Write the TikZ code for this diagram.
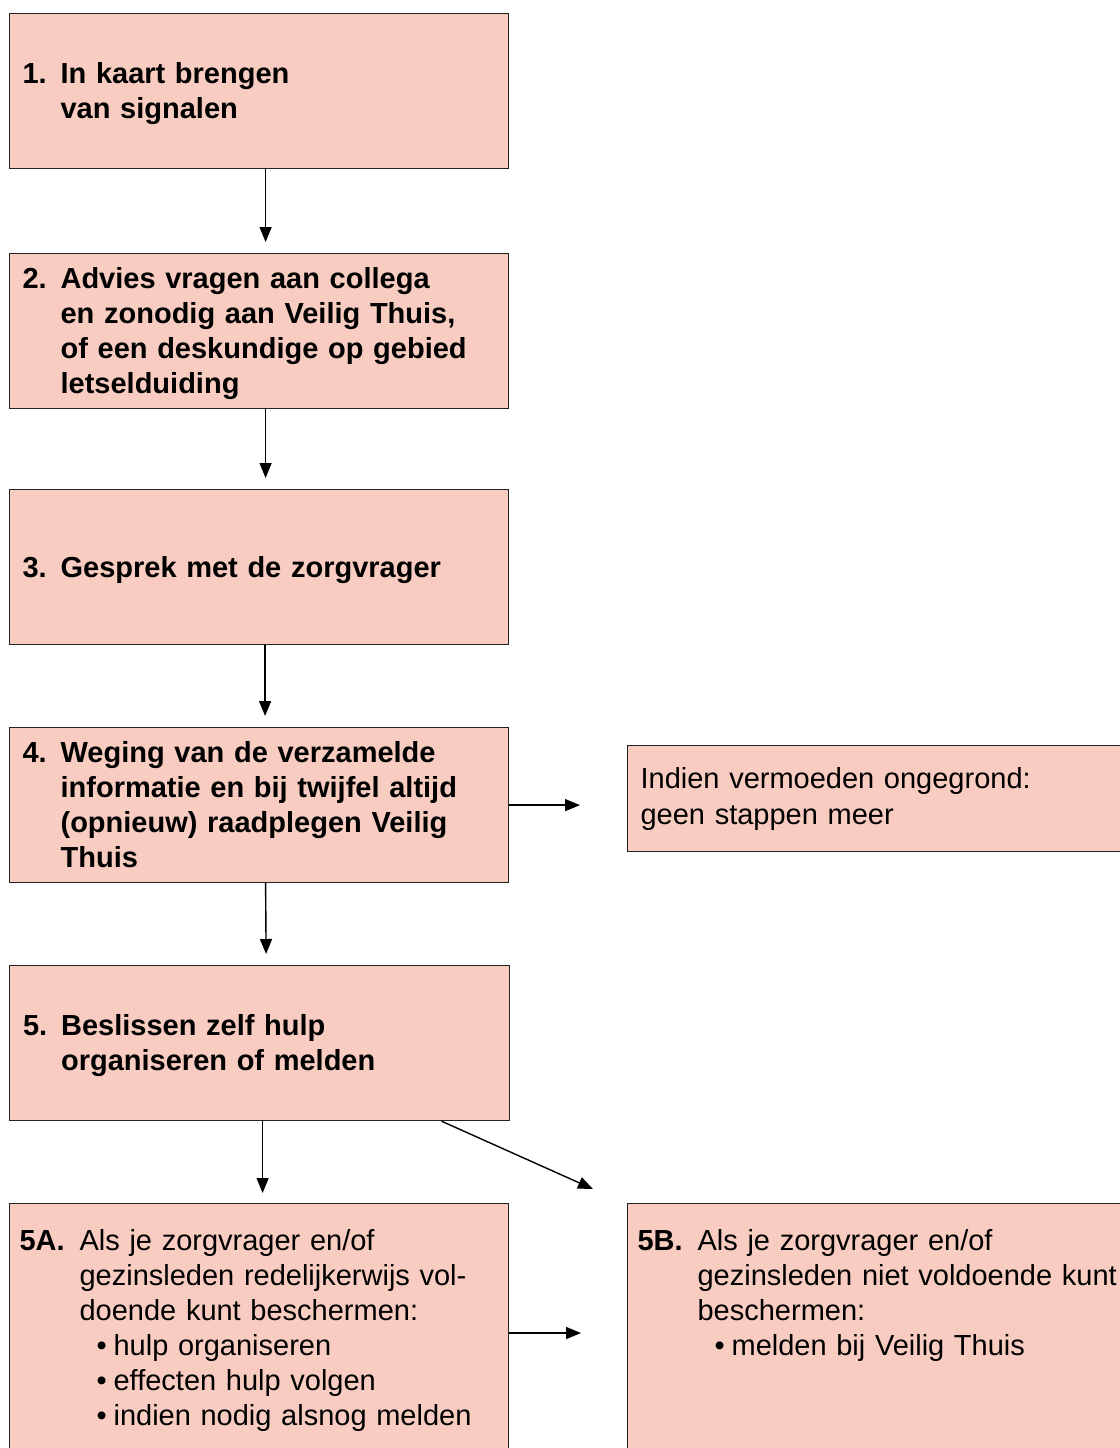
\documentclass[tikz,border=0pt]{standalone}
\usepackage{fontspec}
\setmainfont{Liberation Sans}
\usetikzlibrary
  {
    arrows.meta,  % filled arrow heads
    positioning,  % place nodes relative to other nodes
    calc,
  }

\definecolor{zalm}{RGB}{248,204,192}
\definecolor{randkleur}{RGB}{35,35,35}

% number in its own column, text hangs behind it
\newcommand{\stap}[2]{\raisebox{-3pt}[\height][\depth]{\begin{tabular}{@{}p{38pt}@{}l@{}}#1 & #2\end{tabular}}}
\newcommand{\keuze}[2]{\begin{tabular}{@{}p{60pt}@{}l@{}}\textbf{#1} & #2\end{tabular}}
\newcommand{\punt}[1]{\hspace*{17pt}\makebox[17pt][l]{•}#1}

\tikzset{
  stapbox/.style={draw=randkleur, line width=1.2pt, fill=zalm, anchor=north west,
    minimum width=499pt, minimum height=155pt, text width=473pt, inner xsep=13pt,
    align=left, font=\fontsize{29pt}{35pt}\selectfont\bfseries},
  zijbox/.style={stapbox, minimum height=106pt, inner xsep=12pt, font=\fontsize{29pt}{36pt}\selectfont},
  keuzebox/.style={stapbox, minimum height=0pt, text width=479pt, inner xsep=10pt,
    inner ysep=22.5pt, text depth=260pt, font=\fontsize{29pt}{35pt}\selectfont},
  pijl/.style={line width=1.4pt, -{Triangle[length=15pt,width=12pt]}},
}

\begin{document}
\begin{tikzpicture}[x=1pt, y=-1pt]
  \useasboundingbox (0,0) rectangle (1119,1448);

  % the five steps
  \node (stap1) [stapbox] at (9,13)  {\stap{1.}{In kaart brengen\\ & van signalen}};
  \node (stap2) [stapbox] at (9,253) {\stap{2.}{Advies vragen aan collega\\ & en zonodig aan Veilig Thuis,\\ & of een deskundige op gebied\\ & letselduiding}};
  \node (stap3) [stapbox] at (9,489) {\stap{3.}{Gesprek met de zorgvrager}};
  \node (stap4) [stapbox] at (9,727) {\stap{4.}{Weging van de verzamelde\\ & informatie en bij twijfel altijd\\ & (opnieuw) raadplegen Veilig\\ & Thuis}};
  \node (stap5) [stapbox, minimum width=500pt] at (9,965) {\stap{5.}{Beslissen zelf hulp\\ & organiseren of melden}};

  % side branch
  \node (geen) [zijbox] at (627,745) {Indien vermoeden ongegrond:\\geen stappen meer};

  % the two outcomes
  \node (stap5a) [keuzebox] at (9,1203) {\keuze{5A.}{Als je zorgvrager en/of\\ & gezinsleden redelijkerwijs vol-\\ & doende kunt beschermen:\\ & \punt{hulp organiseren}\\ & \punt{effecten hulp volgen}\\ & \punt{indien nodig alsnog melden}}};
  \node (stap5b) [keuzebox] at (627,1203) {\keuze{5B.}{Als je zorgvrager en/of\\ & gezinsleden niet voldoende kunt\\ & beschermen:\\ & \punt{melden bij Veilig Thuis}}};

  % arrows
  \draw[pijl] ([xshift=6.5pt]stap1.south) -- ([xshift=6.5pt,yshift=11pt]stap2.north);
  \draw[pijl] ([xshift=6.5pt]stap2.south) -- ([xshift=6.5pt,yshift=11pt]stap3.north);
  \draw[pijl] ([xshift=6pt]stap3.south) -- ([xshift=6pt,yshift=11pt]stap4.north);
  \draw[pijl] ([xshift=6.5pt]stap4.south) -- ([xshift=6.5pt,yshift=11pt]stap5.north);
  \draw[pijl] (stap4.east) -- ([xshift=-47pt]geen.west |- stap4.east);
  \draw[pijl] ([xshift=3pt]stap5.south) -- ([xshift=3pt,yshift=10pt]stap5.south |- stap5a.north);
  \draw[pijl] ([xshift=182pt]stap5.south) -- ([xshift=-34pt,yshift=14pt]stap5b.north west);
  \draw[pijl] ([yshift=-130pt]stap5a.north east) -- ([xshift=-46pt,yshift=-130pt]stap5b.north west);
\end{tikzpicture}
\end{document}
